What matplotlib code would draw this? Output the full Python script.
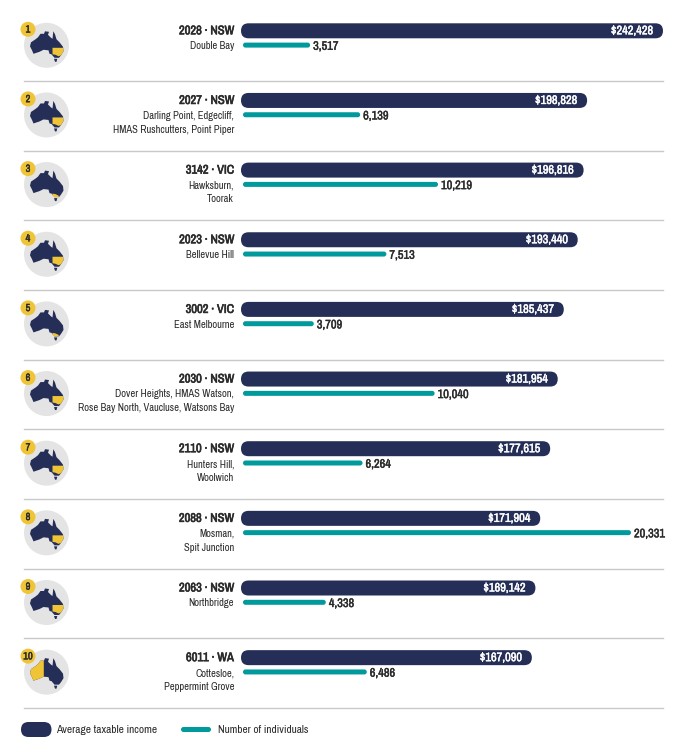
import matplotlib
matplotlib.use("Agg")
import matplotlib.pyplot as plt
import matplotlib.patheffects as pe
from matplotlib.patches import Circle, FancyBboxPatch, Polygon

plt.rcParams["font.family"] = ["Archivo Narrow", "Liberation Sans", "DejaVu Sans"]

# data
postcodes = ["2028", "2027", "3142", "2023", "3002", "2030", "2110", "2088", "2063", "6011"]
states = ["NSW", "NSW", "VIC", "NSW", "VIC", "NSW", "NSW", "NSW", "NSW", "WA"]
suburbs = [
    "Double Bay",
    "Darling Point, Edgecliff,\nHMAS Rushcutters, Point Piper",
    "Hawksburn,\nToorak",
    "Bellevue Hill",
    "East Melbourne",
    "Dover Heights, HMAS Watson,\nRose Bay North, Vaucluse, Watsons Bay",
    "Hunters Hill,\nWoolwich",
    "Mosman,\nSpit Junction",
    "Northbridge",
    "Cottesloe,\nPeppermint Grove",
]
income = [242428, 198828, 196816, 193440, 185437, 181954, 177615, 171904, 169142, 167090]
individuals = [3517, 6139, 10219, 7513, 3709, 10040, 6264, 20331, 4338, 6486]

NAVY = "#252e56"
TEAL = "#009a9c"
YELLOW = "#efc537"
GREY = "#e4e4e4"
LINE = "#c9c9c9"
TEXT = "#2b2b2b"

# map outlines, offsets from circle centre in px
mainland = [(-16.5, 1), (-15.5, -3), (-11, -6), (-8.5, -8), (-6, -11.5), (-2.5, -11.5), (-1.5, -14), (2.5, -13.5),
            (1.5, -10.5), (4.5, -7.5), (6, -6.5), (6.8, -14), (8.5, -11), (10, -6), (13, -3), (16.5, 1.5), (17, 6),
            (14.5, 10), (12.5, 12.5), (8, 12.5), (5, 9), (3, 8.5), (2, 5), (-3, 4.5), (-7, 6.5), (-13, 8.5), (-14.5, 5)]
tassie = [(7.5, 13.5), (10.8, 13.5), (10, 16.5), (8.5, 16.5)]
shapes = {
    "NSW": [(6, 2.5), (16.7, 2.5), (17, 6), (14.5, 10), (12, 11), (9, 9.5), (6, 9)],
    "VIC": [(6, 9), (9, 9.5), (12, 11), (12.5, 12.5), (8, 12.5), (6, 11)],
    "WA": [(-16.5, 1), (-15.5, -3), (-11, -6), (-8.5, -8), (-6, -11.5), (-2.7, -11.5), (-2.7, 4.5), (-7, 6.5),
           (-13, 8.5), (-14.5, 5)],
}

fig = plt.figure(figsize=(6.89, 7.5), dpi=100)
ax = fig.add_axes([0, 0, 1, 1])
ax.set_xlim(0, 689)
ax.set_ylim(750, 0)
ax.axis("off")

income_x0, income_scale = 241, 422 / 242428
people_x0, people_scale = 243, 388 / 20331


def pill(x0, x1, yc, h, color):
    r = h / 2
    ax.add_patch(FancyBboxPatch((x0, yc - r), x1 - x0, h, boxstyle=f"round,pad=0,rounding_size={r}",
                                fc=color, ec="none"))


def bold_text(x, y, s, color=TEXT, size=8.9, stroke=0.3, **kw):
    # the narrow font has no bold cut here, thicken it with a stroke
    ax.text(x, y, s, va="center", fontsize=size, color=color,
            path_effects=[pe.withStroke(linewidth=stroke, foreground=color)], **kw)


for i in range(10):
    y = 30.8 + i * 69.65
    # icon
    cy = y + 14.5
    ax.add_patch(Circle((46.5, cy), 22.5, fc=GREY, ec="none"))
    ax.add_patch(Polygon([(46.5 + a, cy + b) for a, b in mainland], fc=NAVY, ec="none"))
    ax.add_patch(Polygon([(46.5 + a, cy + b) for a, b in tassie], fc=NAVY, ec="none"))
    ax.add_patch(Polygon([(46.5 + a, cy + b) for a, b in shapes[states[i]]], fc=YELLOW, ec="none"))
    ax.add_patch(Circle((28, y - 1.5), 7.5, fc=YELLOW, ec="none"))
    bold_text(28, y - 1.3, str(i + 1), size=7.5, ha="center")

    # labels
    bold_text(234, y, f"{postcodes[i]} · {states[i]}", size=9, stroke=0.45, ha="right")
    ax.text(234, y + 10.4, suburbs[i], ha="right", va="top", fontsize=7.6, color=TEXT, linespacing=1.5)

    # bars
    x1 = income_x0 + income[i] * income_scale
    pill(income_x0, x1, y, 15, NAVY)
    bold_text(x1 - 10, y, f"${income[i]:,}", color="white", ha="right")
    x2 = people_x0 + individuals[i] * people_scale
    pill(people_x0, x2, y + 14.3, 5, TEAL)
    bold_text(x2 + 3, y + 15.5, f"{individuals[i]:,}", ha="left")

    # separator
    ax.plot([24, 663], [y + 50.2, y + 50.2], color=LINE, lw=1)

# legend
pill(21, 51.5, 729.5, 15, NAVY)
ax.text(56, 730, "Average taxable income", ha="left", va="center", fontsize=8.2, color=TEXT)
pill(181, 211, 729.5, 5, TEAL)
ax.text(218, 730, "Number of individuals", ha="left", va="center", fontsize=8.1, color=TEXT)

fig.savefig("out.png", dpi=100)
